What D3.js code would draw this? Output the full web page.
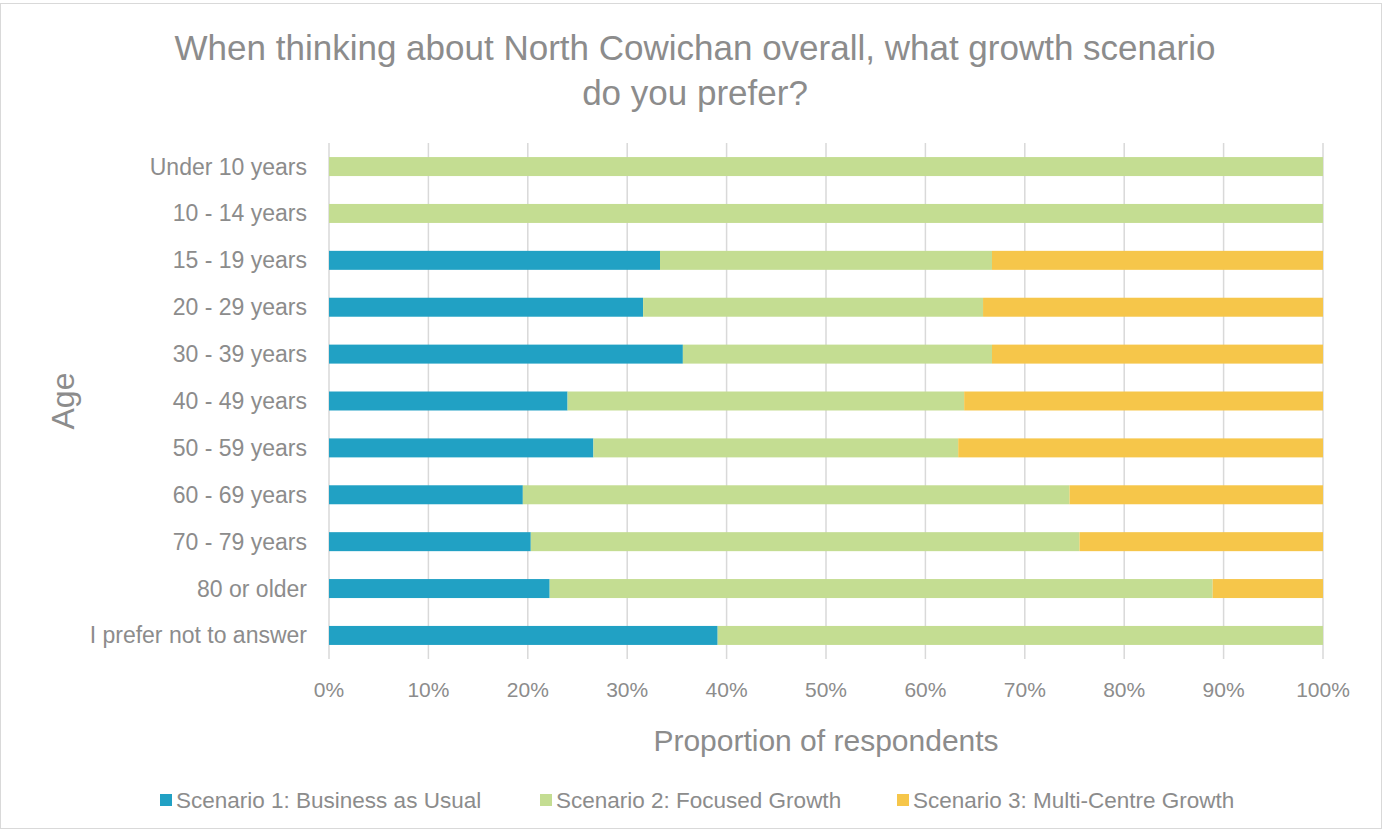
<!DOCTYPE html>
<html>
<head>
<meta charset="utf-8">
<script src="https://cdn.jsdelivr.net/npm/d3@7"></script>
<style>
  body { margin: 0; background: #fff; }
  text { font-family: "Liberation Sans", Arial, sans-serif; fill: #8c8c8c; }
</style>
</head>
<body>
<svg id="chart" width="1385" height="831"></svg>
<script>
// chart data (percent of respondents)
var ageGroups = ["Under 10 years", "10 - 14 years", "15 - 19 years", "20 - 29 years",
  "30 - 39 years", "40 - 49 years", "50 - 59 years", "60 - 69 years",
  "70 - 79 years", "80 or older", "I prefer not to answer"];
var seriesNames = ["Scenario 1: Business as Usual", "Scenario 2: Focused Growth",
  "Scenario 3: Multi-Centre Growth"];
var scenario1 = [0, 0, 33.3, 31.6, 35.6, 24.0, 26.6, 19.5, 20.3, 22.2, 39.1];
var scenario2 = [100, 100, 33.4, 34.2, 31.1, 39.9, 36.7, 55.0, 55.2, 66.7, 60.9];
var scenario3 = [0, 0, 33.3, 34.2, 33.3, 36.1, 36.7, 25.5, 24.5, 11.1, 0];
var xTicks = [0, 10, 20, 30, 40, 50, 60, 70, 80, 90, 100];
var colors = ["#21A1C4", "#C4DD92", "#F6C64A"];

var svg = d3.select("#chart");

// outer frame
svg.append("rect")
  .attr("x", 0.5).attr("y", 3.5)
  .attr("width", 1381).attr("height", 825)
  .attr("fill", "none").attr("stroke", "#d9d9d9");

var plotL = 329, plotR = 1323, plotT = 143, plotB = 659;

var x = d3.scaleLinear().domain([0, 100]).range([plotL, plotR]);
var y = d3.scaleBand().domain(ageGroups).range([plotT, plotB]).paddingInner(0.595).paddingOuter(0.3);

// gridlines
svg.append("g")
  .selectAll("line")
  .data(xTicks)
  .join("line")
  .attr("x1", d => x(d)).attr("x2", d => x(d))
  .attr("y1", plotT).attr("y2", plotB)
  .attr("stroke", "#d9d9d9").attr("stroke-width", 1.5);

// stacked bars
var rows = ageGroups.map(function(a, i) {
  return { age: a, s0: scenario1[i], s1: scenario2[i], s2: scenario3[i] };
});
var layers = d3.stack().keys(["s0", "s1", "s2"])(rows);

svg.append("g")
  .selectAll("g")
  .data(layers)
  .join("g")
  .attr("fill", (d, i) => colors[i])
  .selectAll("rect")
  .data(d => d)
  .join("rect")
  .attr("x", d => x(d[0]))
  .attr("width", d => Math.max(0, x(d[1]) - x(d[0])))
  .attr("y", d => y(d.data.age))
  .attr("height", y.bandwidth());

// y axis labels
svg.append("g")
  .selectAll("text")
  .data(ageGroups)
  .join("text")
  .attr("x", 307)
  .attr("y", d => y(d) + y.bandwidth() / 2)
  .attr("dy", "0.35em")
  .attr("text-anchor", "end")
  .style("font-size", "23px")
  .text(d => d);

// x axis labels
svg.append("g")
  .selectAll("text")
  .data(xTicks)
  .join("text")
  .attr("x", d => x(d))
  .attr("y", 697)
  .attr("text-anchor", "middle")
  .style("font-size", "21px")
  .text(d => d + "%");

// axis titles
svg.append("text")
  .attr("x", (plotL + plotR) / 2).attr("y", 751)
  .attr("text-anchor", "middle")
  .style("font-size", "30px")
  .text("Proportion of respondents");

svg.append("text")
  .attr("transform", "translate(74," + ((plotT + plotB) / 2) + ") rotate(-90)")
  .attr("text-anchor", "middle")
  .style("font-size", "32px")
  .text("Age");

// title
var title = svg.append("text")
  .attr("x", 695).attr("y", 60)
  .attr("text-anchor", "middle")
  .style("font-size", "35px");
title.append("tspan").attr("x", 695).text("When thinking about North Cowichan overall, what growth scenario");
title.append("tspan").attr("x", 695).attr("dy", 45).text("do you prefer?");

// legend
var legendX = [160, 540, 897];
var legend = svg.append("g")
  .selectAll("g")
  .data(seriesNames)
  .join("g")
  .attr("transform", (d, i) => "translate(" + legendX[i] + ",794)");
legend.append("rect")
  .attr("width", 12).attr("height", 12)
  .attr("fill", (d, i) => colors[i]);
legend.append("text")
  .attr("x", 16).attr("y", 6)
  .attr("dy", "0.35em")
  .style("font-size", "22.5px")
  .text(d => d);
</script>
</body>
</html>
